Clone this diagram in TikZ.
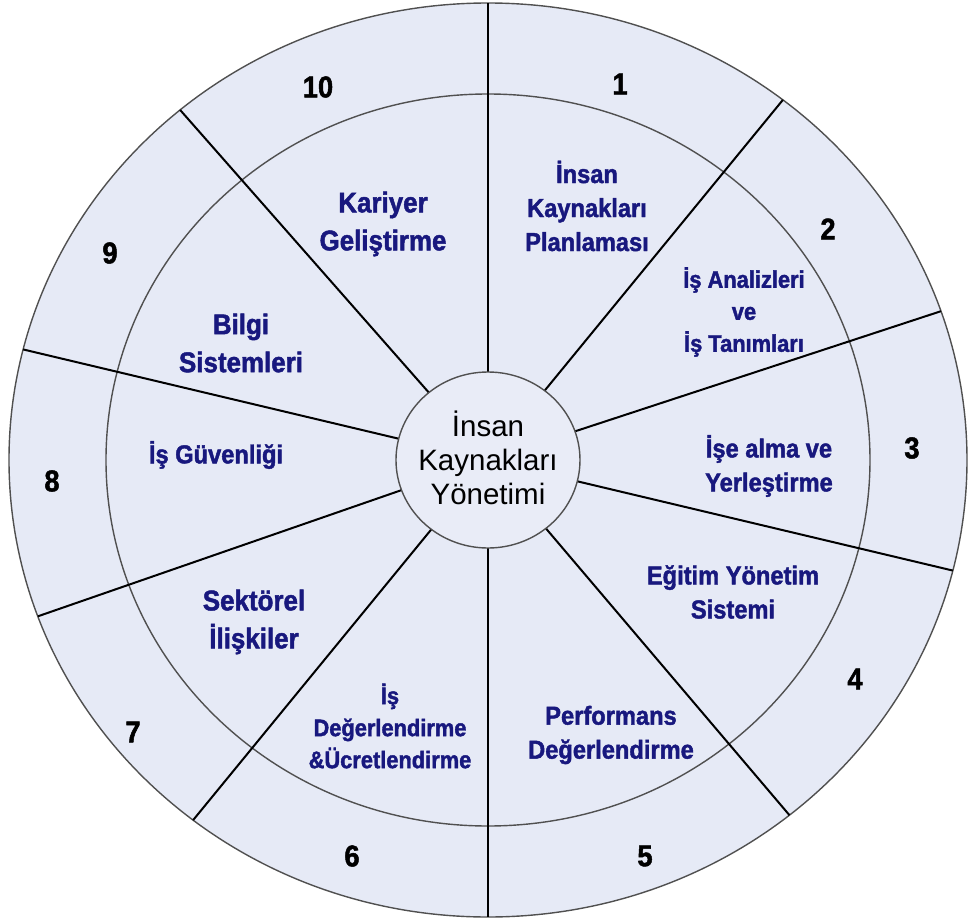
\documentclass[tikz,border=0pt]{standalone}
\usepackage{fontspec}
\setmainfont{Liberation Sans}
\newfontfamily\wheelfont[FakeStretch=0.91,BoldFeatures={FakeBold=1.6}]{Liberation Sans}
\usetikzlibrary{positioning}
\definecolor{wheelfill}{HTML}{E6EAF6}
\definecolor{hubfill}{HTML}{E9ECF7}
\definecolor{wheelblue}{HTML}{18187E}
\definecolor{ringline}{HTML}{505050}

\begin{document}
\begin{tikzpicture}[x=1pt,y=1pt,
  ring/.style={draw=ringline,line width=1.4pt},
  spoke/.style={draw=black,line width=2pt},
  num/.style={text=black,font=\wheelfont\bfseries\fontsize{30}{30}\selectfont},
  area/.style={align=center,text=wheelblue,inner sep=0pt},
  bigtxt/.style={font=\wheelfont\bfseries\fontsize{28.5}{38}\selectfont},
  midtxt/.style={font=\wheelfont\bfseries\fontsize{26}{34}\selectfont},
  smalltxt/.style={font=\wheelfont\bfseries\fontsize{24}{32}\selectfont},
  hubtxt/.style={align=center,text=black,inner sep=0pt,font=\fontsize{29.5}{34}\selectfont}]
\useasboundingbox (-488,-462) rectangle (481,460);

% rings
\filldraw[ring,fill=wheelfill] (0,0) ellipse [x radius=479,y radius=457];
\draw[ring] (0,0) ellipse [x radius=382,y radius=366];

% spokes
\foreach \a in {90,52,19,-14,-51,-90,-128,-160,166,130}
  \draw[spoke] (\a:92 and 88) -- (\a:479 and 457);

% hub
\filldraw[ring,fill=hubfill] (0,0) ellipse [x radius=92,y radius=88];
\node[hubtxt] (hub) at (0,2) {İnsan\\Kaynakları\\Yönetimi};

% inner labels
\node[area,midtxt] (plan) at (99,254) {İnsan\\Kaynakları\\Planlaması};
\node[area,smalltxt] (analiz) at (256,148) {İş Analizleri\\ve\\İş Tanımları};
\node[area,midtxt] (alma) at (281,-6) {İşe alma ve\\Yerleştirme};
\node[area,midtxt] (egitim) at (245,-132) {Eğitim Yönetim\\Sistemi};
\node[area,midtxt] (perf) at (123,-275) {Performans\\Değerlendirme};
\node[area,smalltxt] (ucret) at (-98,-266) {İş\\Değerlendirme\\\&Ücretlendirme};
\node[area,bigtxt] (sektor) at (-234,-162) {Sektörel\\İlişkiler};
\node[area,midtxt] (guven) at (-272,5) {İş Güvenliği};
\node[area,bigtxt] (bilgi) at (-247,117) {Bilgi\\Sistemleri};
\node[area,bigtxt] (kariyer) at (-105,236) {Kariyer\\Geliştirme};

% outer numbers
\node[num] (n1) at (132,376) {1};
\node[num] (n2) at (340,231) {2};
\node[num] (n3) at (424,12) {3};
\node[num] (n4) at (367,-219) {4};
\node[num] (n5) at (157,-396) {5};
\node[num] (n6) at (-136,-396) {6};
\node[num] (n7) at (-355,-272) {7};
\node[num] (n8) at (-436,-21) {8};
\node[num] (n9) at (-378,207) {9};
\node[num] (n10) at (-170,373) {10};
\end{tikzpicture}
\end{document}
